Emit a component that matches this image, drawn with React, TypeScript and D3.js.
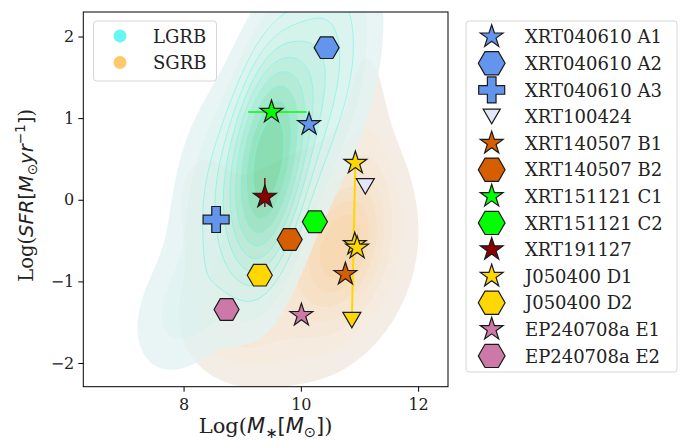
import React, { useEffect, useRef } from "react";
import * as d3 from "d3";

// host galaxy candidates
const names = [
  "XRT040610 A1", "XRT040610 A2", "XRT040610 A3", "XRT100424",
  "XRT140507 B1", "XRT140507 B2", "XRT151121 C1", "XRT151121 C2",
  "XRT191127", "J050400 D1", "J050400 D2", "EP240708a E1", "EP240708a E2",
];
const markers = ["star", "hex", "plus", "tri", "star", "hex", "star", "hex", "star", "star", "hex", "star", "hex"];
const colors = [
  "#6495ed", "#6495ed", "#6495ed", "#e6e6fa", "#d55e00", "#d55e00",
  "#00ff00", "#00ff00", "#8b0000", "#ffd700", "#ffd700", "#cc79a7", "#cc79a7",
];
const logMass = [10.14, 10.44, 8.555, 11.1, 10.76, 9.81, 9.5, 10.24, 9.386, 10.93, 9.3, 10.01, 8.733];
const logSFR = [0.924, 1.863, -0.242, 0.165, -0.912, -0.487, 1.075, -0.27, 0.034, 0.45, -0.924, -1.414, -1.344];

// J050400 D1: extra estimates and the upper limit
const d1Mass = [10.92, 10.96];
const d1SFR = [-0.545, -0.59];
const d1LimitMass = 10.87;
const d1LimitSFR = -1.475;

// error bars
const c1MassErr = [9.1, 10.1];
const x191127SFRErr = [-0.088, 0.267];

const lgrbCx = [9.4, 9.6, 10.35, 7.95, 8.4];
const lgrbCy = [0.45, 0.7, 2.0, -1.35, 0.2];
const lgrbSx = [0.38, 0.78, 0.5, 0.55, 0.45];
const lgrbSy = [0.85, 0.95, 0.8, 0.5, 0.8];
const lgrbRho = [0.3, 0.6, 0.3, 0.3, 0.3];
const lgrbW = [1.0, 0.42, 0.18, 0.12, 0.08];

const sgrbCx = [10.7, 10.0, 8.9, 11.1, 8.3];
const sgrbCy = [-0.5, -0.8, -1.5, 0.9, 0.1];
const sgrbSx = [0.45, 1.0, 0.5, 0.3, 0.4];
const sgrbSy = [0.55, 0.75, 0.35, 0.9, 0.5];
const sgrbRho = [0.3, 0.2, 0, 0, 0];
const sgrbW = [1.0, 0.5, 0.25, 0.13, 0.1];

const lgrbLevels = [0.035, 0.08, 0.14, 0.21, 0.29, 0.38, 0.48, 0.59, 0.71, 0.84];
const sgrbLevels = [0.06, 0.14, 0.24, 0.36, 0.5, 0.66, 0.82];

const xTicks = [8, 10, 12];
const yTicks = [-2, -1, 0, 1, 2];

const SERIF = "DejaVu Serif";
const SANS = "DejaVu Sans";

function markerPath(kind: string, r: number): string {
  let pts: [number, number][] = [];
  if (kind === "star") {
    for (let k = 0; k < 10; k++) {
      const a = -Math.PI / 2 + (k * Math.PI) / 5;
      const rr = k % 2 === 0 ? r : r * 0.382;
      pts.push([rr * Math.cos(a), rr * Math.sin(a)]);
    }
  } else if (kind === "hex") {
    for (let k = 0; k < 6; k++) {
      const a = (k * Math.PI) / 3;
      pts.push([r * Math.cos(a), r * Math.sin(a)]);
    }
  } else if (kind === "plus") {
    const h = r, a = r / 3;
    pts = [[-a, -h], [a, -h], [a, -a], [h, -a], [h, a], [a, a], [a, h], [-a, h], [-a, a], [-h, a], [-h, -a], [-a, -a]];
  } else {
    pts = [[-r * 0.72, -r * 0.62], [r * 0.72, -r * 0.62], [0, r * 0.62]];
  }
  return "M" + pts.map(p => p[0].toFixed(2) + "," + p[1].toFixed(2)).join("L") + "Z";
}

function markerSize(kind: string): number {
  if (kind === "star") return 12;
  if (kind === "hex") return 12.5;
  if (kind === "plus") return 13;
  return 12.5;
}

function mixture(cx: number[], cy: number[], sx: number[], sy: number[], rho: number[], w: number[]) {
  return (x: number, y: number) => {
    let s = 0;
    for (let i = 0; i < cx.length; i++) {
      const dx = (x - cx[i]) / sx[i];
      const dy = (y - cy[i]) / sy[i];
      const q = (dx * dx - 2 * rho[i] * dx * dy + dy * dy) / (1 - rho[i] * rho[i]);
      s += w[i] * Math.exp(-0.5 * q);
    }
    return s;
  };
}

const App: React.FC = () => {
  const svgRef = useRef<SVGSVGElement | null>(null);

  useEffect(() => {
    if (!svgRef.current) return;
    const width = 686;
    const height = 441;
    const plot = { left: 83.3, right: 448, top: 12, bottom: 386.7 };

    const x = d3.scaleLinear().domain([6.29, 12.51]).range([plot.left, plot.right]);
    const y = d3.scaleLinear().domain([-2.29, 2.3]).range([plot.bottom, plot.top]);

    const svg = d3.select(svgRef.current);
    svg.selectAll("*").remove();
    svg.attr("width", width).attr("height", height);

    svg.append("defs").append("clipPath").attr("id", "plot-clip")
      .append("rect")
      .attr("x", plot.left).attr("y", plot.top)
      .attr("width", plot.right - plot.left).attr("height", plot.bottom - plot.top);

    // density grid
    const nx = 150, ny = 130;
    const gx0 = 5.8, gx1 = 13.2, gy0 = -3.3, gy1 = 3.3;
    const stepX = (gx1 - gx0) / (nx - 1);
    const stepY = (gy1 - gy0) / (ny - 1);
    const gridToPx = d3.geoTransform({
      point(px, py) {
        this.stream.point(x(gx0 + px * stepX), y(gy1 - py * stepY));
      },
    });
    const geoPath = d3.geoPath(gridToPx);

    const makeField = (f: (a: number, b: number) => number) => {
      const vals = new Array(nx * ny);
      for (let j = 0; j < ny; j++) {
        for (let i = 0; i < nx; i++) vals[j * nx + i] = f(gx0 + i * stepX, gy1 - j * stepY);
      }
      const mx = d3.max(vals) as number;
      return vals.map(v => v / mx);
    };

    const lgrbField = makeField(mixture(lgrbCx, lgrbCy, lgrbSx, lgrbSy, lgrbRho, lgrbW));
    const sgrbField = makeField(mixture(sgrbCx, sgrbCy, sgrbSx, sgrbSy, sgrbRho, sgrbW));

    const kde = svg.append("g").attr("clip-path", "url(#plot-clip)");

    const sgrbColor = d3.scaleLinear<string>().domain([0, 0.5, 1]).range(["#f4ede5", "#f6e4cf", "#f7d8b0"]).interpolate(d3.interpolateRgb);
    const sgrbG = kde.append("g").attr("opacity", 0.95);
    d3.contours().size([nx, ny]).thresholds(sgrbLevels)(sgrbField).forEach((c, i) => {
      sgrbG.append("path").attr("d", geoPath(c as any)).attr("fill", sgrbColor(i / (sgrbLevels.length - 1)));
    });

    const lgrbColor = d3.scaleLinear<string>().domain([0, 0.3, 0.65, 1]).range(["#e3f3f2", "#cdf1ea", "#a2e8cf", "#6fd6a0"]).interpolate(d3.interpolateRgb);
    const lgrbG = kde.append("g").attr("opacity", 0.8);
    const lgrbContours = d3.contours().size([nx, ny]).thresholds(lgrbLevels)(lgrbField);
    lgrbContours.forEach((c, i) => {
      lgrbG.append("path").attr("d", geoPath(c as any)).attr("fill", lgrbColor(i / (lgrbLevels.length - 1)));
    });
    lgrbContours.forEach((c, i) => {
      if (i < 2) return;
      lgrbG.append("path").attr("d", geoPath(c as any))
        .attr("fill", "none").attr("stroke", "#5ff3e2").attr("stroke-width", 0.9).attr("opacity", 0.75);
    });

    // error bars and D1 connection
    const marks = svg.append("g");
    marks.append("line")
      .attr("x1", x(c1MassErr[0])).attr("x2", x(c1MassErr[1]))
      .attr("y1", y(logSFR[6])).attr("y2", y(logSFR[6]))
      .attr("stroke", colors[6]).attr("stroke-width", 1.5);
    marks.append("line")
      .attr("x1", x(logMass[8])).attr("x2", x(logMass[8]))
      .attr("y1", y(x191127SFRErr[0])).attr("y2", y(x191127SFRErr[1]))
      .attr("stroke", colors[8]).attr("stroke-width", 1.5);
    marks.append("line")
      .attr("x1", x(logMass[9])).attr("x2", x(d1LimitMass))
      .attr("y1", y(logSFR[9])).attr("y2", y(d1LimitSFR))
      .attr("stroke", colors[9]).attr("stroke-width", 2);

    const drawMarker = (g: any, kind: string, cx: number, cy: number, fill: string, scale = 1) => {
      g.append("path")
        .attr("d", markerPath(kind, markerSize(kind) * scale))
        .attr("transform", `translate(${cx},${cy})`)
        .attr("fill", fill)
        .attr("stroke", "#1a1a1a")
        .attr("stroke-width", 1.2)
        .attr("stroke-linejoin", "miter");
    };

    names.forEach((_, i) => {
      drawMarker(marks, markers[i], x(logMass[i]), y(logSFR[i]), colors[i]);
    });
    d1Mass.forEach((m, i) => drawMarker(marks, "star", x(m), y(d1SFR[i]), colors[9]));
    drawMarker(marks, "tri", x(d1LimitMass), y(d1LimitSFR), colors[9]);

    // frame and axes
    svg.append("rect")
      .attr("x", plot.left).attr("y", plot.top)
      .attr("width", plot.right - plot.left).attr("height", plot.bottom - plot.top)
      .attr("fill", "none").attr("stroke", "#000").attr("stroke-width", 1);

    const axisX = svg.append("g").attr("transform", `translate(0,${plot.bottom})`)
      .call(d3.axisBottom(x).tickValues(xTicks).tickSize(5).tickSizeOuter(0).tickFormat(d3.format("d")));
    axisX.select(".domain").remove();
    axisX.selectAll("text").attr("font-family", SERIF).attr("font-size", 16).attr("fill", "#222").attr("dy", "0.95em");

    const axisY = svg.append("g").attr("transform", `translate(${plot.left},0)`)
      .call(d3.axisLeft(y).tickValues(yTicks).tickSize(5).tickSizeOuter(0).tickFormat(d => (d as number) < 0 ? "\u2212" + Math.abs(d as number) : String(d)));
    axisY.select(".domain").remove();
    axisY.selectAll("text").attr("font-family", SERIF).attr("font-size", 16).attr("fill", "#222").attr("x", -9);

    // axis labels with mathtext-like parts
    const addParts = (t: any, parts: { s: string; font: string; italic?: boolean; shift?: number; size?: number }[], base: number) => {
      let cur = 0;
      parts.forEach(p => {
        const sh = p.shift ?? 0;
        t.append("tspan")
          .attr("font-family", p.font)
          .attr("font-style", p.italic ? "italic" : "normal")
          .attr("font-size", (p.size ?? 1) * base)
          .attr("dy", sh - cur)
          .text(p.s);
        cur = sh;
      });
    };

    const xl = svg.append("text")
      .attr("x", (plot.left + plot.right) / 2).attr("y", 433)
      .attr("text-anchor", "middle").attr("fill", "#222");
    addParts(xl, [
      { s: "Log(", font: SERIF },
      { s: "M", font: SANS, italic: true },
      { s: "\u2217", font: SANS, shift: 5, size: 0.7 },
      { s: "[", font: SANS },
      { s: "M", font: SANS, italic: true },
      { s: "\u2299", font: SANS, shift: 4, size: 0.7 },
      { s: "]", font: SANS },
      { s: ")", font: SERIF },
    ], 21);

    const yl = svg.append("text")
      .attr("transform", `translate(33,${(plot.top + plot.bottom) / 2 - 4}) rotate(-90)`)
      .attr("text-anchor", "middle").attr("fill", "#222");
    addParts(yl, [
      { s: "Log(", font: SERIF },
      { s: "SFR", font: SANS, italic: true },
      { s: "[", font: SANS },
      { s: "M", font: SANS, italic: true },
      { s: "\u2299", font: SANS, shift: 4, size: 0.7 },
      { s: "yr", font: SANS, italic: true },
      { s: "\u22121", font: SANS, shift: -8, size: 0.7 },
      { s: "]", font: SANS },
      { s: ")", font: SERIF },
    ], 19.5);

    // inner legend
    const lg = svg.append("g");
    lg.append("rect").attr("x", 93.5).attr("y", 21).attr("width", 123).attr("height", 60).attr("rx", 3)
      .attr("fill", "#fff").attr("fill-opacity", 0.8).attr("stroke", "#d6d6d6");
    [["LGRB", "#66f6f3"], ["SGRB", "#fdc96b"]].forEach(([lab, c], i) => {
      const cy = 36 + i * 26.5;
      lg.append("circle").attr("cx", 120).attr("cy", cy).attr("r", 6.5).attr("fill", c);
      lg.append("text").attr("x", 153).attr("y", cy + 6.7)
        .attr("font-family", SERIF).attr("font-size", 18).attr("fill", "#222").text(lab);
    });

    // outer legend
    const rg = svg.append("g");
    rg.append("rect").attr("x", 466).attr("y", 21).attr("width", 211).attr("height", 351).attr("rx", 3)
      .attr("fill", "#fff").attr("stroke", "#d6d6d6");
    names.forEach((n, i) => {
      const cy = 36.7 + i * 26.6;
      const k = markers[i];
      drawMarker(rg, k, 491.7, cy, colors[i], k === "hex" ? 1.07 : k === "tri" ? 0.95 : 1);
      rg.append("text").attr("x", 525).attr("y", cy + 6.6)
        .attr("font-family", SERIF).attr("font-size", 18).attr("fill", "#222").text(n);
    });
  }, []);

  return <svg ref={svgRef} style={{ position: "absolute", left: 0, top: 0 }} width={686} height={441}></svg>;
};

export default App;
